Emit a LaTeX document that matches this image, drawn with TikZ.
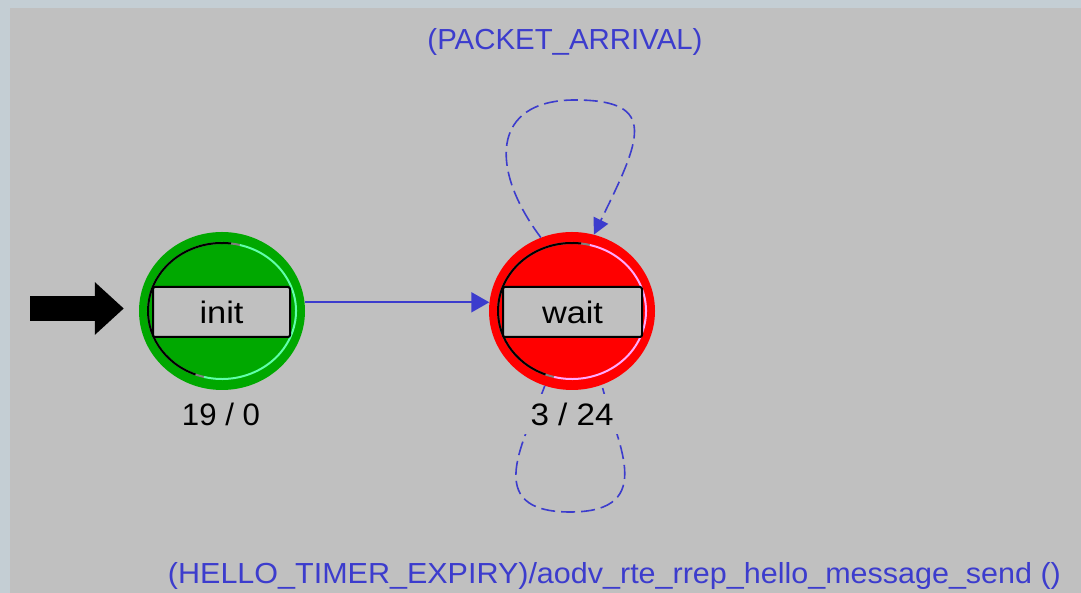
\documentclass[tikz,border=0pt]{standalone}
\usepackage{fontspec}
\setmainfont{Liberation Sans}
\usetikzlibrary{arrows.meta,shapes.geometric,calc}

\definecolor{frame}{RGB}{196,206,212}
\definecolor{canvas}{RGB}{192,192,192}
\definecolor{tblue}{RGB}{60,60,205}
\definecolor{stgreen}{RGB}{0,168,0}
\definecolor{stred}{RGB}{255,0,0}
\definecolor{hlgreen}{RGB}{96,255,170}
\definecolor{hlred}{RGB}{255,170,255}
\definecolor{bevelgray}{RGB}{128,128,128}

% inner bevel ring of a state: dark on the upper left, light on the lower right
\newcommand\statebevel[2]{%
  \draw[bevelgray, line width=2pt] ([shift={(76:74pt and 68pt)}]#1.center)
    arc[start angle=76, end angle=256, x radius=74pt, y radius=68pt];
  \draw[black, line width=2pt] ([shift={(83:74pt and 68pt)}]#1.center)
    arc[start angle=83, end angle=249, x radius=74pt, y radius=68pt];
  \draw[#2, line width=2pt] ([shift={(256:74pt and 68pt)}]#1.center)
    arc[start angle=256, end angle=436, x radius=74pt, y radius=68pt];}

\begin{document}
\begin{tikzpicture}[x=1pt, y=1pt,
  state/.style={ellipse, minimum width=166pt, minimum height=158pt, inner sep=0pt},
  statebox/.style={draw=black, line width=2pt, fill=canvas, rounded corners=2pt,
    minimum height=50pt, inner sep=0pt, font=\fontsize{31}{33}\selectfont},
  count/.style={fill=canvas, inner sep=0pt, minimum width=110pt, minimum height=40pt,
    font=\fontsize{31}{33}\selectfont},
  trans/.style={draw=tblue, line width=1.8pt, -{Triangle[length=18pt, width=20pt]}},
  selfloop/.style={draw=tblue, line width=1.6pt, dash pattern=on 14pt off 6pt},
  evlabel/.style={text=tblue, inner sep=0pt, font=\fontsize{29}{31}\selectfont},
  entryarrow/.style={draw=black, line width=25pt, -{Triangle[length=29pt, width=51pt]}}
]
\useasboundingbox (0,0) rectangle (1081,593);
\fill[frame] (0,0) rectangle (1081,593);
\fill[canvas] (10,0) rectangle (1081,585);

% states
\node[state, fill=stgreen] (init) at (222,282) {};
\node[state, fill=stred] (wait) at (572,282) {};
\statebevel{init}{hlgreen}
\statebevel{wait}{hlred}
\node[statebox, minimum width=137pt] (initbox) at (221.5,281) {\resizebox{44pt}{\height}{init}};
\node[statebox, minimum width=139pt] (waitbox) at (572.5,281) {\resizebox{61pt}{\height}{wait}};

% initial-state marker
\coordinate (entry) at (30,284.5);
\draw[entryarrow, shorten >=15pt] (entry) -- (entry -| init.west);

% transitions
\draw[trans] (init.6) -- (wait.174);
\draw[selfloop, -{Triangle[length=16pt, width=16pt]}] (wait.113)
  .. controls (490,423) and (490,493) .. (575,493)
  .. controls (660,493) and (640,453) .. (wait.74);
\draw[selfloop] (wait.-110)
  .. controls (525,153) and (480,81) .. (570,81)
  .. controls (660,81) and (615,153) .. (wait.-68);

% execution counts
\node[count] (initcount) at (221,179) {\resizebox{78pt}{\height}{19 / 0}};
\node[count] (waitcount) at (572,179) {\resizebox{83pt}{\height}{3 / 24}};

% transition conditions
\node[evlabel] (evtop) at (565,551) {\resizebox{275pt}{\height}{(PACKET\_ARRIVAL)}};
\node[evlabel] (evbottom) at (614.5,17)
  {\resizebox{893pt}{\height}{(HELLO\_TIMER\_EXPIRY)/aodv\_rte\_rrep\_hello\_message\_send ()}};
\end{tikzpicture}
\end{document}
